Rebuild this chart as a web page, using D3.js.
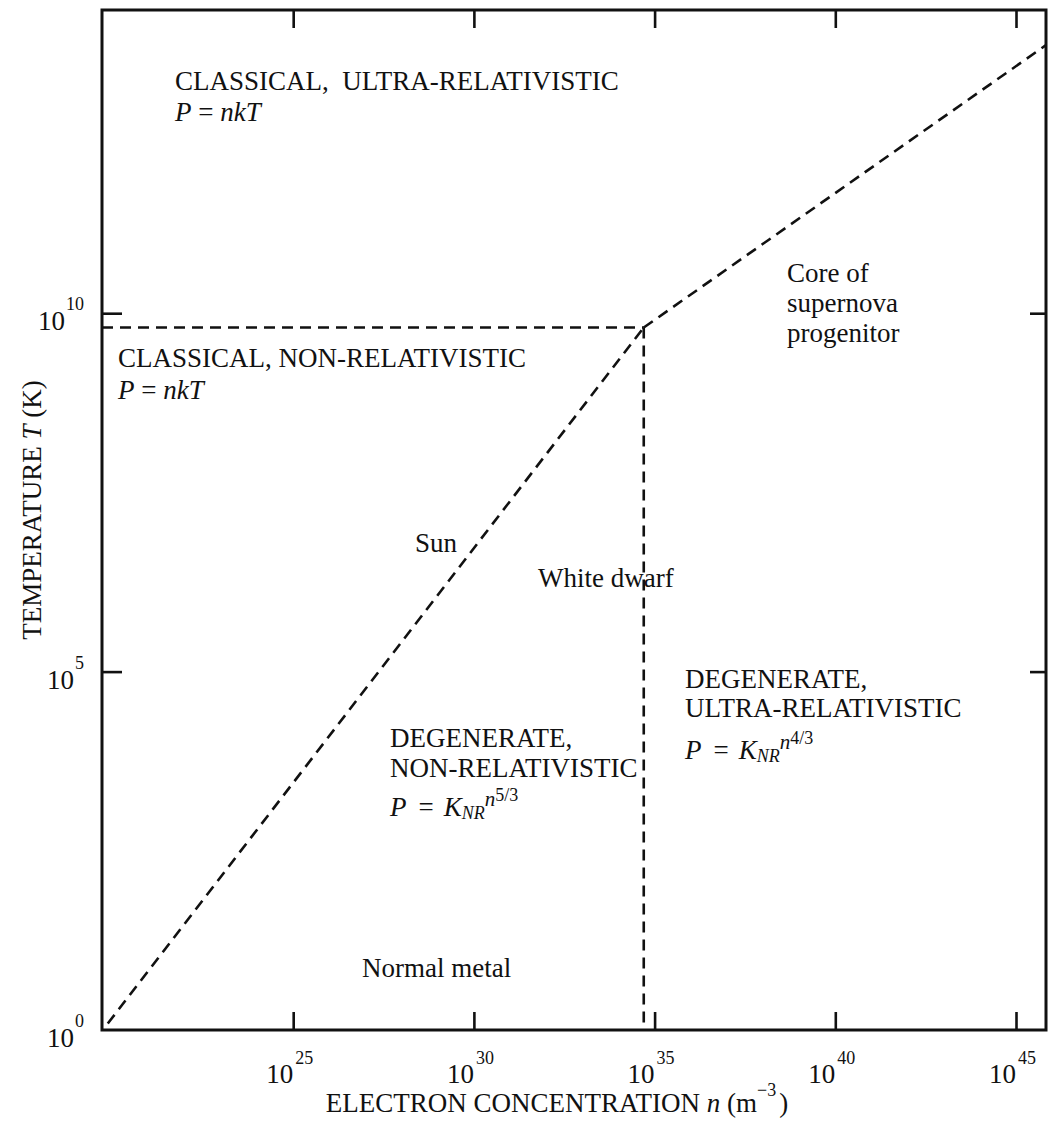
<!DOCTYPE html>
<html>
<head>
<meta charset="utf-8">
<script src="https://cdn.jsdelivr.net/npm/d3@7"></script>
<style>
  html, body { margin: 0; padding: 0; background: #fff; }
  svg { display: block; }
</style>
</head>
<body>
<svg id="chart" width="1048" height="1124"></svg>
<script>
// Axis extents as log10 exponents
const nDomainExp = [19.71, 45.83];   // electron concentration n (m^-3)
const tDomainExp = [0, 14.23];       // temperature T (K)

// Tick exponents
const nTickExps = [25, 30, 35, 40, 45];
const tTickExps = [0, 5, 10];

// Regime boundaries, as [log10 n, log10 T] pairs
const nonRelDegeneracy = [[19.87, 0.09], [34.70, 9.80]];
const relTemperature   = [[19.71, 9.80], [34.70, 9.80]];
const relDensity       = [[34.70, 9.80], [34.70, 0.00]];
const ultraRelDegeneracy = [[34.70, 9.80], [45.83, 13.74]];

const SERIF = "'Liberation Serif', 'Times New Roman', Times, 'DejaVu Serif', serif";

const svg = d3.select("#chart")
  .attr("font-family", SERIF)
  .style("font-family", SERIF);
const plotL = 102, plotR = 1046, plotT = 10, plotB = 1030;

const x = d3.scaleLog().domain(nDomainExp.map(e => Math.pow(10, e))).range([plotL, plotR]);
const y = d3.scaleLog().domain(tDomainExp.map(e => Math.pow(10, e))).range([plotB, plotT]);

const line = d3.line().x(d => x(Math.pow(10, d[0]))).y(d => y(Math.pow(10, d[1])));

// Dashed boundaries
[nonRelDegeneracy, relTemperature, relDensity, ultraRelDegeneracy].forEach(pts => {
  svg.append("path")
    .attr("d", line(pts))
    .attr("fill", "none")
    .attr("stroke", "#111")
    .attr("stroke-width", 2.6)
    .attr("stroke-dasharray", "11,7");
});

// Frame
svg.append("rect")
  .attr("x", plotL).attr("y", plotT)
  .attr("width", plotR - plotL).attr("height", plotB - plotT)
  .attr("fill", "none").attr("stroke", "#111").attr("stroke-width", 3);

// Inward ticks, bottom/top and left/right
const tickLen = 18;
const xAxisBottom = d3.axisTop(x).tickValues(nTickExps.map(e => Math.pow(10, e)))
  .tickSize(tickLen).tickFormat("");
const xAxisTop = d3.axisBottom(x).tickValues(nTickExps.map(e => Math.pow(10, e)))
  .tickSize(tickLen).tickFormat("");
const yTickVals = tTickExps.filter(e => e > 0).map(e => Math.pow(10, e));
const yAxisLeft = d3.axisRight(y).tickValues(yTickVals).tickSize(20).tickFormat("");
const yAxisRight = d3.axisLeft(y).tickValues(yTickVals).tickSize(16).tickFormat("");

function styleAxis(g) {
  g.select(".domain").remove();
  g.selectAll(".tick line").attr("stroke", "#111").attr("stroke-width", 2.6);
}
svg.append("g").attr("transform", `translate(0,${plotB})`).call(xAxisBottom).call(styleAxis);
svg.append("g").attr("transform", `translate(0,${plotT})`).call(xAxisTop).call(styleAxis);
svg.append("g").attr("transform", `translate(${plotL},0)`).call(yAxisLeft).call(styleAxis);
svg.append("g").attr("transform", `translate(${plotR},0)`).call(yAxisRight).call(styleAxis);

function txt(sel) {
  return sel.append("text").attr("font-family", SERIF).attr("fill", "#111");
}

// Tick labels: 10 with superscript exponent
nTickExps.forEach(e => {
  const px = x(Math.pow(10, e));
  txt(svg).attr("x", px).attr("y", 1083)
    .attr("text-anchor", "end").attr("font-size", 27).text("10");
  txt(svg).attr("x", px + 2).attr("y", 1064)
    .attr("font-size", 18).text(e);
});
tTickExps.forEach(e => {
  const py = y(Math.pow(10, e));
  const t = txt(svg).attr("x", 84).attr("y", py + 17)
    .attr("text-anchor", "end").attr("font-size", 27);
  t.append("tspan").text("10");
  t.append("tspan").attr("font-size", 18).attr("dy", -20).attr("dx", 1).text(e);
});

// Axis titles
const xt = txt(svg).attr("x", 557).attr("y", 1112)
  .attr("text-anchor", "middle").attr("font-size", 27);
xt.append("tspan").text("ELECTRON CONCENTRATION ");
xt.append("tspan").attr("font-style", "italic").text("n");
xt.append("tspan").text(" (m");
xt.append("tspan").attr("font-size", 18).attr("dy", -16).text("\u22123");
xt.append("tspan").attr("dy", 16).attr("dx", 3).text(")");

const yt = txt(svg)
  .attr("transform", "translate(41,510) rotate(-90)")
  .attr("text-anchor", "middle").attr("font-size", 27);
yt.append("tspan").text("TEMPERATURE ");
yt.append("tspan").attr("font-style", "italic").text("T");
yt.append("tspan").text(" (K)");

// Region labels
const fs = 27;
function plain(xp, yp, str) {
  return txt(svg).attr("x", xp).attr("y", yp).attr("font-size", fs).text(str);
}
function pnkT(xp, yp) {
  const t = txt(svg).attr("x", xp).attr("y", yp).attr("font-size", fs);
  t.append("tspan").attr("font-style", "italic").text("P");
  t.append("tspan").text(" = ");
  t.append("tspan").attr("font-style", "italic").text("nkT");
}
function pK(xp, yp, expo) {
  const t = txt(svg).attr("x", xp).attr("y", yp).attr("font-size", fs);
  t.append("tspan").attr("font-style", "italic").text("P");
  t.append("tspan").attr("dx", 12).text("=");
  t.append("tspan").attr("dx", 10).attr("font-style", "italic").text("K");
  t.append("tspan").attr("font-style", "italic").attr("font-size", 18).attr("dy", 3).text("NR");
  t.append("tspan").attr("font-style", "italic").attr("font-size", 21).attr("dy", -13).text("n");
  t.append("tspan").attr("font-size", 18).attr("dy", -5).text(expo);
}

plain(175, 90, "CLASSICAL,\u00a0 ULTRA-RELATIVISTIC");
pnkT(175, 121);

plain(118, 367, "CLASSICAL, NON-RELATIVISTIC");
pnkT(118, 399);

plain(787, 282, "Core of");
plain(787, 312, "supernova");
plain(787, 342, "progenitor");

plain(415, 552, "Sun");
plain(538, 587, "White dwarf");

plain(390, 747, "DEGENERATE,");
plain(390, 777, "NON-RELATIVISTIC");
pK(390, 816, "5/3");

plain(685, 688, "DEGENERATE,");
plain(685, 717, "ULTRA-RELATIVISTIC");
pK(685, 759, "4/3");

plain(362, 977, "Normal metal");
</script>
</body>
</html>
